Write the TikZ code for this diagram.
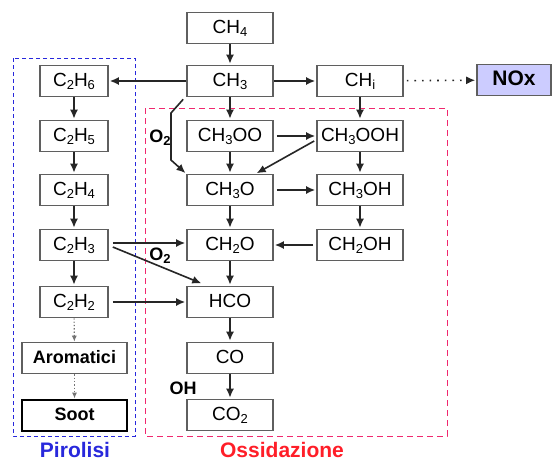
\documentclass[tikz,border=0pt]{standalone}
\usepackage{fontspec}
\setmainfont{Liberation Sans}
\usetikzlibrary{arrows.meta,calc}
\newcommand{\sbs}[1]{\raisebox{-0.35ex}{\fontsize{13}{13}\selectfont #1}}
\definecolor{boxgray}{RGB}{95,95,95}
\definecolor{pirblue}{RGB}{40,40,220}
\definecolor{ossred}{RGB}{255,30,40}
\definecolor{pinkdash}{RGB}{240,40,110}
\definecolor{noxfill}{RGB}{204,204,255}
\begin{document}
\begin{tikzpicture}[x=1pt,y=-1pt,
  box/.style={draw=boxgray, line width=1.6pt, fill=white, minimum width=86pt, minimum height=31pt,
    inner sep=0pt, text height=13pt, text depth=3pt, font=\fontsize{19}{21}\selectfont},
  lbox/.style={box, minimum width=68pt},
  wbox/.style={box, minimum width=105pt, font=\fontsize{18}{20}\selectfont\bfseries},
  arr/.style={-{Latex[length=9pt,width=8pt]}, line width=1.6pt, draw=black!85, shorten >=1pt},
  darr/.style={-{Latex[length=6pt,width=5pt]}, line width=1.1pt, draw=gray!90!black, dash pattern=on 1.3pt off 2pt},
  lab/.style={font=\fontsize{18}{20}\selectfont\bfseries, inner sep=0pt},
  title/.style={font=\fontsize{21}{24}\selectfont\bfseries, inner sep=0pt, text depth=0pt}]
\useasboundingbox (0,0) rectangle (552,461);
\fill[white] (0,0) rectangle (552,461);

% dashed regions
\draw[pirblue, line width=1pt, dash pattern=on 4pt off 3pt] (13,58) rectangle (135,436);
\draw[pinkdash, line width=1pt, dash pattern=on 6pt off 4pt] (145,108) rectangle (447,436);

% central column
\node[box] (CH4) at (230,28) {CH\sbs{4}};
\node[box] (CH3) at (230,81) {CH\sbs{3}};
\node[box] (CH3OO) at (230,136) {CH\sbs{3}OO};
\node[box] (CH3O) at (230,190) {CH\sbs{3}O};
\node[box] (CH2O) at (230,245) {CH\sbs{2}O};
\node[box] (HCO) at (230,302) {HCO};
\node[box] (CO) at (230,358) {CO};
\node[box] (CO2) at (230,415) {CO\sbs{2}};

% left column
\node[lbox] (C2H6) at (74,81) {C\sbs{2}H\sbs{6}};
\node[lbox] (C2H5) at (74,136) {C\sbs{2}H\sbs{5}};
\node[lbox] (C2H4) at (74,190) {C\sbs{2}H\sbs{4}};
\node[lbox] (C2H3) at (74,245) {C\sbs{2}H\sbs{3}};
\node[lbox] (C2H2) at (74,302) {C\sbs{2}H\sbs{2}};
\node[wbox] (Arom) at (74.5,358) {Aromatici};
\node[wbox, draw=black, line width=2pt] (Soot) at (74.5,415) {Soot};

% right column
\node[box] (CHi) at (360,81) {CH\sbs{i}};
\node[box] (CH3OOH) at (360,136) {CH\sbs{3}OOH};
\node[box] (CH3OH) at (360,190) {CH\sbs{3}OH};
\node[box] (CH2OH) at (360,245) {CH\sbs{2}OH};

% NOx
\node[box, fill=noxfill, minimum width=74pt, font=\fontsize{21}{24}\selectfont\bfseries] (NOx) at (514,80) {NOx};

% arrows central
\draw[arr] (CH4) -- (CH3);
\draw[arr] (CH3) -- (CH3OO);
\draw[arr] (CH3OO) -- (CH3O);
\draw[arr] (CH3O) -- (CH2O);
\draw[arr] (CH2O) -- (HCO);
\draw[arr] (HCO) -- (CO);
\draw[arr] (CO) -- (CO2);

% arrows horizontal from CH3
\draw[arr] (CH3) -- (C2H6);
\draw[arr] (CH3) -- (CHi);
\draw[-{Latex[length=9pt,width=8pt]}, line width=1.6pt, draw=black!85, dash pattern=on 1.6pt off 6pt, shorten <=3pt, shorten >=1pt] (CHi) -- (NOx);

% bent O2 path
\coordinate (b1) at (171,113);
\coordinate (b2) at (171,160);
\draw[arr] ($(CH3.south west)+(-3,2)$) -- (b1) -- (b2) -- (CH3O.north west);

% right column arrows
\draw[arr] (CHi) -- (CH3OOH);
\draw[arr] (CH3OOH) -- (CH3OH);
\draw[arr] (CH3OH) -- (CH2OH);
\draw[arr, shorten <=3pt] (CH3OO) -- (CH3OOH);
\draw[arr, shorten <=3pt] (CH3O) -- (CH3OH);
\draw[arr, shorten <=3pt] (CH2OH) -- (CH2O);
\draw[arr] ($(CH3OOH.west)+(-2,5)$) -- ($(CH3O.north east)+(-18,0)$);

% left column arrows
\draw[arr] (C2H6) -- (C2H5);
\draw[arr] (C2H5) -- (C2H4);
\draw[arr] (C2H4) -- (C2H3);
\draw[arr] (C2H3) -- (C2H2);
\draw[darr] (C2H2) -- (Arom);
\draw[darr] (Arom) -- (Soot);

% cross arrows
\draw[arr] ($(C2H3.east)+(4,-2)$) -- ($(CH2O.west)+(0,-2)$);
\draw[arr] ($(C2H3.east)+(4,2)$) -- ($(HCO.north west)+(16,-2)$);
\draw[arr, shorten <=4pt] (C2H2) -- (HCO);

% labels
\node[lab] (o2a) at (160,138) {O\sbs{2}};
\node[lab] (o2b) at (160,256) {O\sbs{2}};
\node[lab] (oh) at (183,388) {OH};
\node[title, pirblue] (pir) at (75,450) {Pirolisi};
\node[title, ossred] (oss) at (282,450) {Ossidazione};
\end{tikzpicture}
\end{document}
